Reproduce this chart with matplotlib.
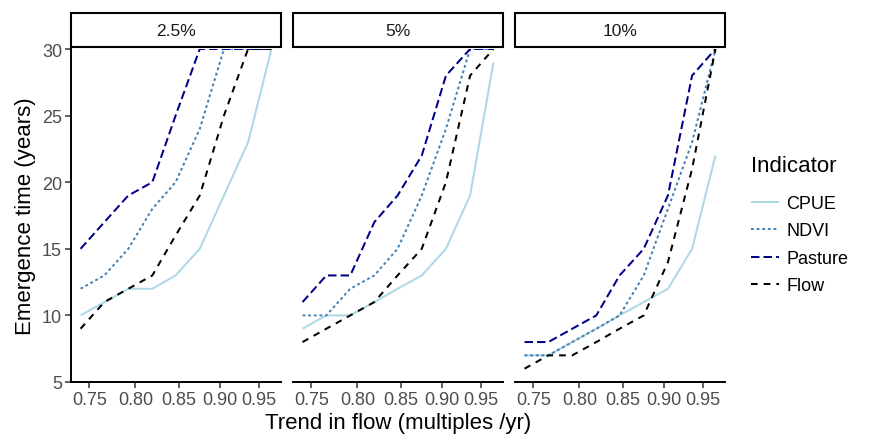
import numpy as np
import matplotlib
matplotlib.use("Agg")
from matplotlib import pyplot as plt
from matplotlib.patches import Rectangle

plt.rcParams['font.family'] = ['Liberation Sans', 'DejaVu Sans']

# trend in flow (multiples / yr), same for every panel
trend = [0.741, 0.766, 0.792, 0.819, 0.846, 0.875, 0.905, 0.936, 0.967]
panels = ["2.5%", "5%", "10%"]
indicators = ["CPUE", "NDVI", "Pasture", "Flow"]

# emergence time (years), one list per indicator and panel
cpue = [[10, 11, 12, 12, 13, 15, 19, 23, 30],
        [9, 10, 10, 11, 12, 13, 15, 19, 29],
        [7, 7, 8, 9, 10, 11, 12, 15, 22]]
ndvi = [[12, 13, 15, 18, 20, 24, 30, 30, 30],
        [10, 10, 12, 13, 15, 19, 24, 30, 30],
        [7, 7, 8, 9, 10, 13, 18, 23, 30]]
pasture = [[15, 17, 19, 20, 25, 30, 30, 30, 30],
           [11, 13, 13, 17, 19, 22, 28, 30, 30],
           [8, 8, 9, 10, 13, 15, 19, 28, 30]]
flow = [[9, 11, 12, 13, 16, 19, 25, 30, 30],
        [8, 9, 10, 11, 13, 15, 20, 28, 30],
        [6, 7, 7, 8, 9, 10, 14, 21, 30]]

series = {"CPUE": cpue, "NDVI": ndvi, "Pasture": pasture, "Flow": flow}
styles = {
    "CPUE": dict(color="#add8e6", linestyle="-"),
    "NDVI": dict(color="#4682b4", linestyle=(0, (1.4, 1.4))),
    "Pasture": dict(color="#00008b", linestyle=(0, (4.2, 2.0))),
    "Flow": dict(color="black", linestyle=(0, (3.3, 3.0))),
}

W, H = 869, 435
fig = plt.figure(figsize=(W / 100, H / 100), dpi=100)

lefts = [71, 293, 515]
pw, top, bottom = 210, 50, 383

lx = np.log(trend)
pad = 0.05 * (lx.max() - lx.min())
xlim = (np.exp(lx.min() - pad), np.exp(lx.max() + pad))

grey = "#4d4d4d"
axes = []
for i, l in enumerate(lefts):
    ax = fig.add_axes([l / W, (H - bottom) / H, pw / W, (bottom - top) / H])
    axes.append(ax)
    for name in indicators:
        ax.plot(trend, series[name][i], linewidth=1.45, label=name,
                solid_capstyle="butt", dash_capstyle="butt", **styles[name])
    ax.set_xscale("log")
    ax.set_xlim(*xlim)
    ax.set_ylim(5, 30)
    ax.minorticks_off()
    ax.set_xticks([0.75, 0.80, 0.85, 0.90, 0.95])
    ax.set_xticklabels(["0.75", "0.80", "0.85", "0.90", "0.95"])
    ax.set_yticks([5, 10, 15, 20, 25, 30])
    ax.tick_params(axis="both", labelsize=13, labelcolor=grey, color="#333333",
                   length=4, width=1.1, pad=2.5)
    for s in ["top", "right"]:
        ax.spines[s].set_visible(False)
    ax.spines["bottom"].set_linewidth(1.4)
    ax.spines["left"].set_linewidth(1.4)
    if i > 0:
        ax.spines["left"].set_visible(False)
        ax.tick_params(axis="y", left=False, labelleft=False)
    # facet strip
    sb = (bottom - 48) / (bottom - top)
    st = (bottom - 14) / (bottom - top)
    ax.add_patch(Rectangle((0, sb), 1, st - sb, transform=ax.transAxes,
                           facecolor="white", edgecolor="black", linewidth=1.5,
                           clip_on=False))
    ax.text(0.5, (sb + st) / 2, panels[i], transform=ax.transAxes,
            ha="center", va="center", fontsize=12.5, color="#1a1a1a")

axes[0].set_ylabel("Emergence time (years)", fontsize=16, labelpad=4)
fig.text((lefts[0] + lefts[-1] + pw) / 2 / W, 11 / H,
         "Trend in flow (multiples /yr)", ha="center", va="center", fontsize=16)

# legend: title as its own text, entries below it
fig.text(751 / W, 1 - 166 / H, "Indicator", ha="left", va="center", fontsize=16)
handles, labels = axes[0].get_legend_handles_labels()
leg = fig.legend(handles, labels, loc="upper left",
                 bbox_to_anchor=(751 / W, 1 - 196 / H), frameon=False,
                 fontsize=13, handlelength=1.55, labelspacing=0.58,
                 handletextpad=0.4, borderpad=0, borderaxespad=0)

fig.savefig("out.png", dpi=100)
